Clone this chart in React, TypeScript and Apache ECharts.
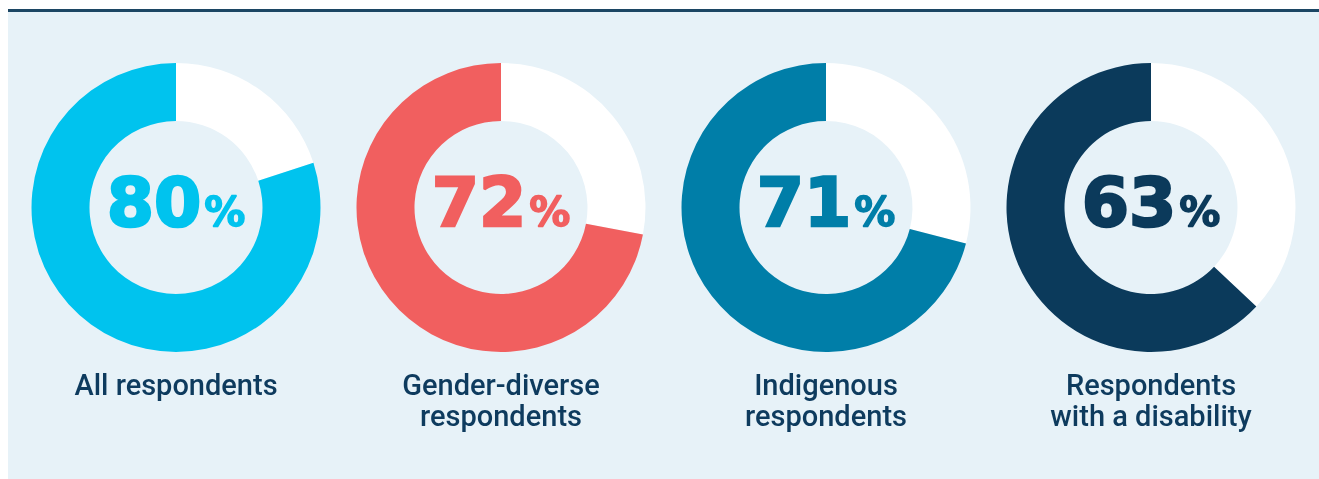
import React, { useEffect, useRef } from "react";
import * as echarts from "echarts";

const categories = ["All respondents", "Gender-diverse\nrespondents", "Indigenous\nrespondents", "Respondents\nwith a disability"];
const values = [80, 72, 71, 63];
const colors = ["#00c3ee", "#f15f5f", "#007ea8", "#0b3a5b"];
const centersX = [176, 501, 826, 1151];

export default function App() {
  const ref = useRef<HTMLDivElement>(null);
  useEffect(() => {
    if (!ref.current) return;
    const chart = echarts.init(ref.current, null, { renderer: "svg" });
    const cy = 207.5;
    const series = values.map((v, i) => ({
      type: "pie",
      center: [centersX[i], cy],
      radius: [86.5, 144.5],
      startAngle: 90,
      clockwise: true,
      silent: true,
      animation: false,
      labelLine: { show: false },
      itemStyle: { borderWidth: 0 },
      emphasis: { disabled: true },
      data: [
        { value: 100 - v, name: "rest", itemStyle: { color: "#ffffff" }, label: { show: false } },
        {
          value: v,
          name: categories[i],
          itemStyle: { color: colors[i] },
          label: {
            show: true,
            position: "center",
            formatter: "{n|" + v + "}{p|%}",
            padding: [0, 0, 10, 0],
            rich: {
              n: { fontFamily: "DejaVu Sans", fontWeight: "bold", fontSize: 68, lineHeight: 68, color: colors[i], verticalAlign: "bottom", textBorderColor: colors[i], textBorderWidth: 2.5 },
              p: { fontFamily: "DejaVu Sans", fontWeight: "bold", fontSize: 41, lineHeight: 41, color: colors[i], verticalAlign: "bottom", padding: [0, 0, 4, 3], textBorderColor: colors[i], textBorderWidth: 1.5 },
            },
          },
        },
      ],
    }));
    const graphic: any[] = [
      { type: "rect", shape: { x: 8, y: 12, width: 1311, height: 467 }, style: { fill: "#e7f2f8" }, silent: true, z: -10 },
      { type: "rect", shape: { x: 8, y: 9, width: 1311, height: 3 }, style: { fill: "#1c4664" }, silent: true, z: -10 },
    ];
    categories.forEach((c, i) => {
      graphic.push({
        type: "text",
        x: centersX[i],
        y: 369,
        silent: true,
        style: {
          text: c,
          align: "center",
          verticalAlign: "top",
          textAlign: "center",
          textVerticalAlign: "top",
          fontFamily: "Roboto",
          fontWeight: 500,
          fontSize: 29,
          lineHeight: 31,
          fill: "#0e3b5e",
        },
      });
    });
    chart.setOption({ animation: false, graphic, series });
    return () => chart.dispose();
  }, []);
  return <div ref={ref} style={{ position: "fixed", left: 0, top: 0, width: 1319, height: 479 }} />;
}
